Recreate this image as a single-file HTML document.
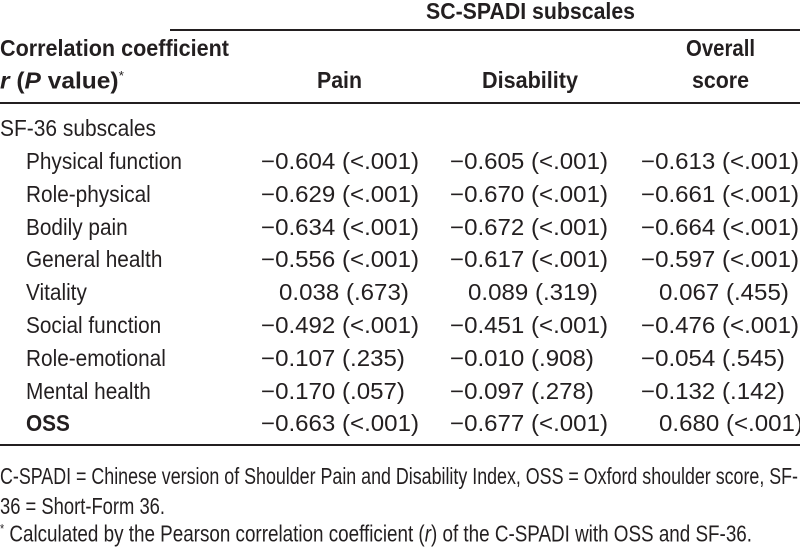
<!DOCTYPE html>
<html><head><meta charset="utf-8"><style>
body{margin:0;width:800px;height:544px;background:#fff;overflow:hidden;position:relative;font-family:"Liberation Sans",sans-serif;color:#231f20;font-size:23px}
.t{position:absolute;white-space:nowrap;line-height:1;transform-origin:0 0}
.b{font-weight:bold}
.r{position:absolute;background:#231f20}
sup{font-size:13px;font-weight:normal}
</style></head><body>
<div class="t b" data-w="209" style="left:426px;top:0px">SC-SPADI subscales</div>
<div class="r" style="left:170px;top:29px;width:630px;height:2px"></div>
<div class="t b" data-w="229" style="left:0;top:37px">Correlation coefficient</div>
<div class="t b" data-w="124" style="left:0;top:69px"><i>r</i> (<i>P</i> value)<sup>*</sup></div>
<div class="t b" data-w="45" style="left:317px;top:69px">Pain</div>
<div class="t b" data-w="96" style="left:482px;top:69px">Disability</div>
<div class="t b" data-w="69" style="left:686px;top:37px">Overall</div>
<div class="t b" data-w="57" style="left:692px;top:69px">score</div>
<div class="r" style="left:0;top:102px;width:800px;height:2px"></div>
<div class="t" data-w="156" style="left:0;top:117px">SF-36 subscales</div>
<div id="rows"></div>
<div class="r" style="left:0;top:444px;width:800px;height:2px"></div>
<div class="t" data-w="798" style="left:0;top:465px">C-SPADI = Chinese version of Shoulder Pain and Disability Index, OSS = Oxford shoulder score, SF-</div>
<div class="t" data-w="165" style="left:0;top:495px">36 = Short-Form 36.</div>
<div class="t" data-w="752" style="left:0;top:522px"><sup>*</sup> Calculated by the Pearson correlation coefficient (<i>r</i>) of the C-SPADI with OSS and SF-36.</div>
<script>
const rowLabels=["Physical function","Role-physical","Bodily pain","General health","Vitality","Social function","Role-emotional","Mental health","OSS"];
const painVals=["−0.604 (<.001)","−0.629 (<.001)","−0.634 (<.001)","−0.556 (<.001)","0.038 (.673)","−0.492 (<.001)","−0.107 (.235)","−0.170 (.057)","−0.663 (<.001)"];
const disVals=["−0.605 (<.001)","−0.670 (<.001)","−0.672 (<.001)","−0.617 (<.001)","0.089 (.319)","−0.451 (<.001)","−0.010 (.908)","−0.097 (.278)","−0.677 (<.001)"];
const ovVals=["−0.613 (<.001)","−0.661 (<.001)","−0.664 (<.001)","−0.597 (<.001)","0.067 (.455)","−0.476 (<.001)","−0.054 (.545)","−0.132 (.142)","0.680 (<.001)"];
const host=document.getElementById('rows');
function measure(txt,bold){const s=document.createElement('span');s.className='t'+(bold?' b':'');s.style.visibility='hidden';s.textContent=txt;document.body.appendChild(s);const w=s.getBoundingClientRect().width;s.remove();return w;}
const valSx=158/measure("−0.604 (<.001)");
const labSx=156/measure("Physical function");
const minusW=measure("−")*valSx+4;
function cell(txt,left,top,name){
  const d=document.createElement('div');
  d.className='t';
  
  
  let l=left;
  if(txt[0]!=='−'){l=left+minusW;}
  d.style.left=l+'px';d.style.top=top+'px';
  d.style.transform='scaleX('+valSx+')';
  d.textContent=txt;host.appendChild(d);
}
rowLabels.forEach((lab,i)=>{
  const top=150+i*32.8;
  const d=document.createElement('div');
  d.className='t'+(lab==='OSS'?' b':'');
  
  
  d.style.left='26px';d.style.top=top+'px';d.style.transform='scaleX('+labSx+')';d.textContent=lab;host.appendChild(d);
  cell(painVals[i],261,top,'pain-value');
  cell(disVals[i],450,top,'disability-value');
  cell(ovVals[i],641,top,'overall-value');
});
document.querySelectorAll('[data-w]').forEach(el=>{
  const w=el.getBoundingClientRect().width;
  el.style.transform='scaleX('+(parseFloat(el.getAttribute('data-w'))/w)+')';
});
</script>
</body></html>
